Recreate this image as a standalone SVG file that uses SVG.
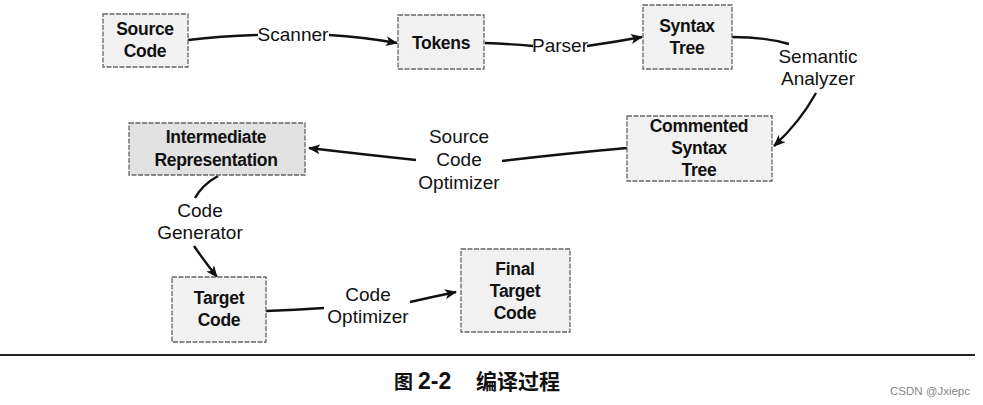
<svg xmlns="http://www.w3.org/2000/svg" width="983" height="405" viewBox="0 0 983 405">
<style>
.box{fill:#f1f1f1;stroke:#666;stroke-width:1.3;stroke-dasharray:5 1.5}
.dark{fill:#e2e2e2}
.nt{font-family:"Liberation Sans",Arial,sans-serif;font-weight:bold;font-size:17.5px;fill:#111;text-anchor:middle;letter-spacing:-0.3px}
.lb{font-family:"Liberation Sans",Arial,sans-serif;font-size:19px;fill:#111;text-anchor:middle}
.ln{fill:none;stroke:#111;stroke-width:2.4}
.cap{font-family:"Liberation Sans","Noto Sans CJK SC",sans-serif;font-weight:bold;font-size:21px;fill:#111}
</style>
<defs>
<marker id="ah" viewBox="0 0 12 10" refX="11" refY="5" markerWidth="12" markerHeight="10" markerUnits="userSpaceOnUse" orient="auto">
<path d="M0,0 L12,5 L0,10 L3,5 Z" fill="#111"/>
</marker>
</defs>
<rect width="983" height="405" fill="#fff"/>
<g id="connectors">
<path class="ln" d="M188,40 Q222,36 258,35"/>
<path class="ln" d="M329,35 Q363,37 397,43" marker-end="url(#ah)"/>
<path class="ln" d="M485,43 Q510,44 533,46"/>
<path class="ln" d="M587,46 Q615,42 642,37" marker-end="url(#ah)"/>
<path class="ln" d="M732,37 Q765,37 789,44"/>
<path class="ln" d="M816,93 Q800,122 774,146" marker-end="url(#ah)"/>
<path class="ln" d="M627,148 Q560,154 502,161"/>
<path class="ln" d="M416,160 Q360,154 309,148" marker-end="url(#ah)"/>
<path class="ln" d="M218,176 Q202,185 195,198"/>
<path class="ln" d="M194,246 Q205,262 217,277" marker-end="url(#ah)"/>
<path class="ln" d="M266,311 Q295,310 324,308"/>
<path class="ln" d="M410,302 Q432,297 456,292" marker-end="url(#ah)"/>
</g>
<g id="source-code">
<rect class="box" x="103" y="14" width="85" height="53"/>
<text class="nt" x="145" y="35">Source</text>
<text class="nt" x="145" y="57">Code</text>
</g>
<g id="tokens">
<rect class="box" x="398" y="15" width="86" height="54"/>
<text class="nt" x="441" y="49">Tokens</text>
</g>
<g id="syntax-tree">
<rect class="box" x="643" y="5" width="89" height="64"/>
<text class="nt" x="687" y="32">Syntax</text>
<text class="nt" x="687" y="54">Tree</text>
</g>
<g id="commented-syntax-tree">
<rect class="box" x="627" y="116" width="145" height="65"/>
<text class="nt" x="699" y="132">Commented</text>
<text class="nt" x="699" y="154">Syntax</text>
<text class="nt" x="699" y="176">Tree</text>
</g>
<g id="intermediate-representation">
<rect class="box dark" x="129" y="123" width="176" height="52"/>
<text class="nt" x="216" y="143">Intermediate</text>
<text class="nt" x="216" y="166">Representation</text>
</g>
<g id="target-code">
<rect class="box" x="172" y="277" width="94" height="65"/>
<text class="nt" x="219" y="304">Target</text>
<text class="nt" x="219" y="326">Code</text>
</g>
<g id="final-target-code">
<rect class="box" x="461" y="249" width="109" height="83"/>
<text class="nt" x="515" y="275">Final</text>
<text class="nt" x="515" y="297">Target</text>
<text class="nt" x="515" y="319">Code</text>
</g>
<g id="labels">
<text class="lb" x="293" y="41">Scanner</text>
<text class="lb" x="560" y="52">Parser</text>
<text class="lb" x="818" y="63">Semantic</text>
<text class="lb" x="818" y="85">Analyzer</text>
<text class="lb" x="459" y="143">Source</text>
<text class="lb" x="459" y="166">Code</text>
<text class="lb" x="459" y="189">Optimizer</text>
<text class="lb" x="200" y="217">Code</text>
<text class="lb" x="200" y="239">Generator</text>
<text class="lb" x="368" y="301">Code</text>
<text class="lb" x="368" y="323">Optimizer</text>
</g>
<line x1="0" y1="355" x2="975" y2="355" stroke="#222" stroke-width="2"/>
<text class="cap" y="389"><tspan x="394" font-size="19">图</tspan><tspan x="418" font-size="23">2-2</tspan><tspan x="476">编译过程</tspan></text>
<text x="970" y="395" font-family="'Liberation Sans',sans-serif" font-size="11.5" fill="#888" text-anchor="end">CSDN @Jxiepc</text>
</svg>
